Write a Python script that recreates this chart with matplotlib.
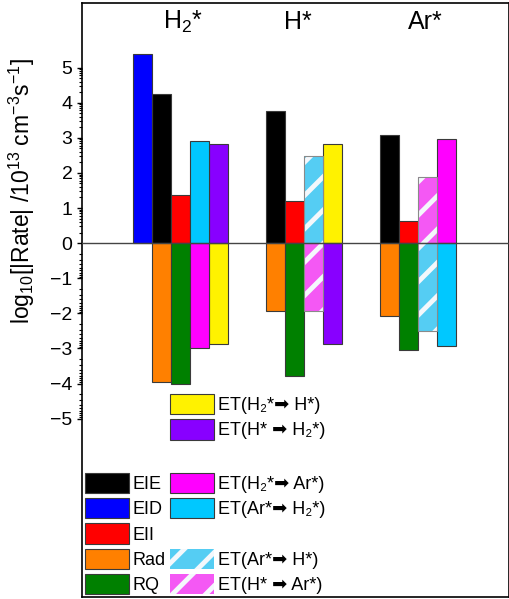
import numpy as np
import matplotlib
matplotlib.use("Agg")
import matplotlib.pyplot as plt
from matplotlib.patches import Patch
from matplotlib.ticker import FixedLocator

plt.rcParams['font.family'] = ['Liberation Sans', 'DejaVu Sans']
plt.rcParams['mathtext.fontset'] = 'custom'
plt.rcParams['mathtext.rm'] = 'Liberation Sans'
plt.rcParams['mathtext.it'] = 'Liberation Sans:italic'
plt.rcParams['hatch.linewidth'] = 3.5

nan = np.nan

# data: log10 |rate|, sign gives production (+) or loss (-)
groups = ['H$_2$*', 'H*', 'Ar*']
eie = [4.25, 3.77, 3.08]
eid = [5.38, nan, nan]
eii = [1.36, 1.19, 0.64]
rad = [-3.95, -1.92, -2.07]
rq = [-4.01, -3.79, -3.03]
et_h2_h = [-2.87, 2.83, nan]
et_h_h2 = [2.83, -2.87, nan]
et_h2_ar = [-2.99, nan, 2.96]
et_ar_h2 = [2.92, nan, -2.93]
et_ar_h = [nan, 2.48, -2.50]
et_h_ar = [nan, -1.93, 1.89]

# layout: slot of each series inside its group
group_x = np.array([4, 10, 16])
series = [
    # values, slots, face, hatched, label
    (eie, [0, 0, 0], 'black', False, 'EIE'),
    (eid, [-1, -1, -1], '#0000ff', False, 'EID'),
    (eii, [1, 1, 1], '#ff0000', False, 'EII'),
    (rad, [0, 0, 0], '#ff8000', False, 'Rad'),
    (rq, [1, 1, 1], '#008000', False, 'RQ'),
    (et_h2_h, [3, 3, 3], '#fff200', False, 'ET(H\u2082*\u27a1 H*)'),
    (et_h_h2, [3, 3, 3], '#8800ff', False, 'ET(H* \u27a1 H\u2082*)'),
    (et_h2_ar, [2, 2, 3], '#ff00ff', False, 'ET(H\u2082*\u27a1 Ar*)'),
    (et_ar_h2, [2, 2, 3], '#00c8ff', False, 'ET(Ar*\u27a1 H\u2082*)'),
    (et_ar_h, [2, 2, 2], '#55cdf3', True, 'ET(Ar*\u27a1 H*)'),
    (et_h_ar, [2, 2, 2], '#f458f4', True, 'ET(H* \u27a1 Ar*)'),
]

fig = plt.figure(figsize=(5.1, 5.99), dpi=100)
ax = fig.add_axes([82 / 510, 2 / 599, 427 / 510, 594 / 599])

edge = '#3a3a3a'
stripe = '#f4f8fc'
handles = {}
for vals, slots, color, hatched, label in series:
    vals = np.array(vals, dtype=float)
    xs = group_x + np.array(slots)
    ok = ~np.isnan(vals)
    if hatched:
        ax.bar(xs[ok], vals[ok], width=1, color=color, edgecolor=stripe,
               linewidth=0, hatch='/', zorder=2)
        ax.bar(xs[ok], vals[ok], width=1, fill=False, edgecolor='#8a8a8a',
               linewidth=0.8, zorder=3)
        handles[label] = Patch(facecolor=color, edgecolor=stripe, hatch='/',
                               linewidth=0)
    else:
        ax.bar(xs[ok], vals[ok], width=1, color=color, edgecolor=edge,
               linewidth=0.8, zorder=2)
        handles[label] = Patch(facecolor=color, edgecolor=edge, linewidth=0.8)

ax.axhline(0, color='#444444', linewidth=1.0, zorder=4)

ax.set_xlim(-0.2, 22.3)
ax.set_ylim(-10.08, 6.84)
ax.set_xticks([])

ax.yaxis.set_major_locator(FixedLocator(np.arange(-5, 6)))
minor = []
for n in range(5):
    for k in range(2, 10):
        minor.append(n + np.log10(k))
        minor.append(-(n + np.log10(k)))
ax.yaxis.set_minor_locator(FixedLocator(minor))
ax.tick_params(axis='y', which='major', direction='out', length=3.6, width=1,
               labelsize=14, pad=3.2)
ax.tick_params(axis='y', which='minor', direction='out', length=2.2, width=0.8)
for s in ax.spines.values():
    s.set_linewidth(1.2)

ax.set_ylabel('log$_{10}$[|Rate| /10$^{13}$ cm$^{-3}$s$^{-1}$]', fontsize=16.5)
ax.yaxis.set_label_coords(-0.105, 0.684)

label_x = [5.1, 11.2, 17.9]
for gx, g in zip(label_x, groups):
    ax.text(gx, 6.3, g, ha='center', va='center', fontsize=18)

leg_kw = dict(frameon=False, fontsize=13, handlelength=2.45, handleheight=1.35,
              labelspacing=0.28, handletextpad=0.2, borderpad=0,
              borderaxespad=0, loc='upper left')

def to_axes(px, py):
    return ((px - 82) / 427, (597 - py) / 594)

labA = ['ET(H\u2082*\u27a1 H*)', 'ET(H* \u27a1 H\u2082*)']
legA = ax.legend([handles[l] for l in labA], labA,
                 bbox_to_anchor=to_axes(170, 394), **leg_kw)
ax.add_artist(legA)

labB = ['EIE', 'EID', 'EII', 'Rad', 'RQ']
legB = ax.legend([handles[l] for l in labB], labB,
                 bbox_to_anchor=to_axes(85, 472.7), **leg_kw)
ax.add_artist(legB)

blank = Patch(facecolor='none', edgecolor='none')
labC = ['ET(H\u2082*\u27a1 Ar*)', 'ET(Ar*\u27a1 H\u2082*)', '',
        'ET(Ar*\u27a1 H*)', 'ET(H* \u27a1 Ar*)']
hC = [handles[l] if l else blank for l in labC]
ax.legend(hC, labC, bbox_to_anchor=to_axes(170, 472.7), **leg_kw)

fig.savefig('out.png', dpi=100)
